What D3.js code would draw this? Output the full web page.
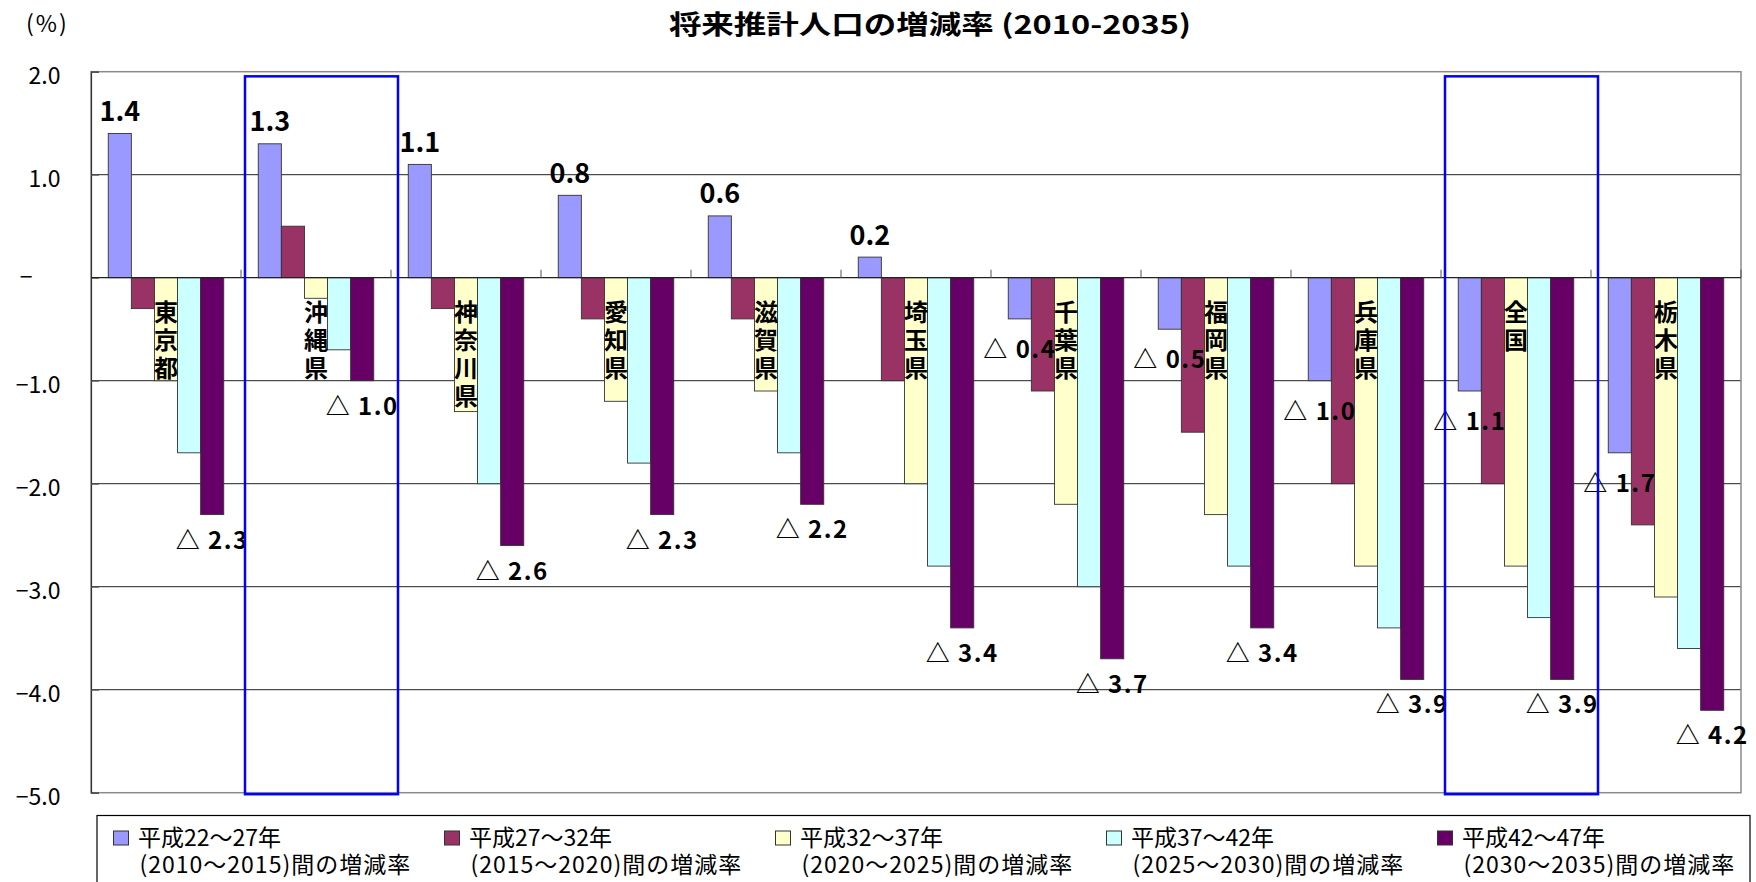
<html>
<head>
<meta charset="utf-8">
<title>将来推計人口の増減率</title>
<script src="https://cdn.jsdelivr.net/npm/d3@7"></script>
<style>
	html, body{
		margin: 0;
		padding: 0;
		background: #fff;
	}
	svg text{
		font-family: "Noto Sans CJK JP", "Noto Sans", sans-serif;
		fill: #000;
	}
</style>
</head>
<body>
<svg id="chart" width="1756" height="882"></svg>
<script>
	// categories (prefectures), left to right
	var categories = ["東京都", "沖縄県", "神奈川県", "愛知県", "滋賀県", "埼玉県", "千葉県", "福岡県", "兵庫県", "全国", "栃木県"];

	// growth rate (%) per period
	var s2010 = [1.4, 1.3, 1.1, 0.8, 0.6, 0.2, -0.4, -0.5, -1.0, -1.1, -1.7];
	var s2015 = [-0.3, 0.5, -0.3, -0.4, -0.4, -1.0, -1.1, -1.5, -2.0, -2.0, -2.4];
	var s2020 = [-1.0, -0.2, -1.3, -1.2, -1.1, -2.0, -2.2, -2.3, -2.8, -2.8, -3.1];
	var s2025 = [-1.7, -0.7, -2.0, -1.8, -1.7, -2.8, -3.0, -2.8, -3.4, -3.3, -3.6];
	var s2030 = [-2.3, -1.0, -2.6, -2.3, -2.2, -3.4, -3.7, -3.4, -3.9, -3.9, -4.2];

	var seriesTop = ["平成22～27年", "平成27～32年", "平成32～37年", "平成37～42年", "平成42～47年"];
	var seriesBottom = ["(2010～2015)間の増減率", "(2015～2020)間の増減率", "(2020～2025)間の増減率", "(2025～2030)間の増減率", "(2030～2035)間の増減率"];
	var colors = ["#9999FF", "#993366", "#FFFFCC", "#CCFFFF", "#660066"];

	var yTicks = [2, 1, 0, -1, -2, -3, -4, -5];
	var highlighted = ["沖縄県", "全国"];

	var series = [s2010, s2015, s2020, s2025, s2030];

	var svg = d3.select("#chart"),
		plotLeft = 91,
		plotRight = 1741,
		plotTop = 71.7,
		plotBottom = 792.7;

	var y = d3.scaleLinear().domain([-5, 2]).range([plotBottom, plotTop]);

	var x0 = d3.scaleBand()
		.domain(categories)
		.range([plotLeft, plotRight])
		.paddingInner(0.23)
		.paddingOuter(0.115);

	var x1 = d3.scaleBand()
		.domain(d3.range(series.length))
		.range([0, x0.bandwidth()]);

	var step = x0.step(),
		zeroY = y(0);

	// title
	svg.append("text")
		.attr("transform", "translate(930,34) scale(1.25,1)")
		.attr("text-anchor", "middle")
		.style("font-size", "26px")
		.style("font-weight", "bold")
		.text("将来推計人口の増減率 (2010-2035)");

	svg.append("text")
		.attr("x", 26)
		.attr("y", 32)
		.style("font-size", "23px")
		.style("letter-spacing", "2px")
		.text("(%)");

	// gridlines
	svg.append("g")
		.selectAll("line")
		.data(yTicks.filter(function(d){ return d !== 0 && d !== 2 && d !== -5; }))
		.join("line")
		.attr("x1", plotLeft)
		.attr("x2", plotRight)
		.attr("y1", function(d){ return y(d); })
		.attr("y2", function(d){ return y(d); })
		.attr("stroke", "#222")
		.attr("stroke-width", 1);

	// plot border
	svg.append("rect")
		.attr("x", plotLeft)
		.attr("y", plotTop)
		.attr("width", plotRight - plotLeft)
		.attr("height", plotBottom - plotTop)
		.attr("fill", "none")
		.attr("stroke", "#8a8a8a")
		.attr("stroke-width", 1.5);

	// y axis
	var yAxis = svg.append("g")
		.attr("transform", "translate(" + plotLeft + ",0)")
		.call(d3.axisLeft(y)
			.tickValues(yTicks)
			.tickSize(-8)
			.tickPadding(30.5)
			.tickFormat(function(d){ return d === 0 ? "−" : d3.format(".1f")(d); }));

	yAxis.select(".domain").attr("stroke", "#333").attr("stroke-width", 1.2);
	yAxis.selectAll(".tick line").attr("stroke", "#555");
	yAxis.selectAll(".tick text")
		.attr("dy", "0.5em")
		.style("font-size", "23px")
		.style("font-family", "\"Noto Sans CJK JP\", sans-serif");
	yAxis.selectAll(".tick text")
		.filter(function(d){ return d === 0; })
		.attr("x", -58.5)
		.attr("dy", "0.3em");

	// bars
	var groups = svg.append("g")
		.selectAll("g")
		.data(categories)
		.join("g")
		.attr("transform", function(d){ return "translate(" + x0(d) + ",0)"; });

	groups.selectAll("rect")
		.data(function(d, i){ return series.map(function(s, k){ return {k: k, v: s[i]}; }); })
		.join("rect")
		.attr("x", function(d){ return x1(d.k); })
		.attr("width", x1.bandwidth())
		.attr("y", function(d){ return Math.min(y(d.v), zeroY); })
		.attr("height", function(d){ return Math.abs(y(d.v) - zeroY); })
		.attr("fill", function(d){ return colors[d.k]; })
		.attr("stroke", "#333")
		.attr("stroke-width", 0.9);

	// zero axis with category ticks
	svg.append("line")
		.attr("x1", plotLeft)
		.attr("x2", plotRight)
		.attr("y1", zeroY)
		.attr("y2", zeroY)
		.attr("stroke", "#222")
		.attr("stroke-width", 1.2);

	svg.append("g")
		.selectAll("line")
		.data(categories)
		.join("line")
		.attr("x1", function(d){ return x0(d) - step * 0.115 + step; })
		.attr("x2", function(d){ return x0(d) - step * 0.115 + step; })
		.attr("y1", zeroY - 8)
		.attr("y2", zeroY)
		.attr("stroke", "#555");

	// category names, vertical, over the third bar
	groups.append("text")
		.attr("text-anchor", "middle")
		.style("font-size", "24px")
		.style("font-weight", "bold")
		.selectAll("tspan")
		.data(function(d){ return d.split(""); })
		.join("tspan")
		.attr("x", x1(2) + x1.bandwidth() / 2)
		.attr("y", function(d, i){ return zeroY + 33 + i * 28; })
		.attr("dominant-baseline", "central")
		.text(function(d){ return d; });

	// value labels: first and last series
	function labelText(v){
		return v < 0 ? "△ " + Math.abs(v).toFixed(1) : v.toFixed(1);
	}

	[0, 4].forEach(function(k){
		groups.append("text")
			.attr("text-anchor", "middle")
			.attr("x", x1(k) + x1.bandwidth() / 2)
			.attr("y", function(d, i){
				var v = series[k][i];
				if (v >= 0) return y(v) - 12.6;
				return y(v) + (k === 0 ? 39 : 34);
			})
			.style("font-size", function(d, i){ return series[k][i] >= 0 ? "27px" : "24px"; })
			.style("font-weight", "bold")
			.style("letter-spacing", function(d, i){ return series[k][i] >= 0 ? "0px" : "1.5px"; })
			.attr("xml:space", "preserve")
			.text(function(d, i){ return labelText(series[k][i]); });
	});

	// highlight boxes
	svg.append("g")
		.selectAll("rect")
		.data(highlighted)
		.join("rect")
		.attr("x", function(d){ return x0(d) - step * 0.115 + 4; })
		.attr("y", y(1.955))
		.attr("width", step + 3)
		.attr("height", y(-5) - y(1.955) + 1.5)
		.attr("fill", "none")
		.attr("stroke", "#0000FF")
		.attr("stroke-width", 2.5);

	// legend
	svg.append("rect")
		.attr("x", 97)
		.attr("y", 815.5)
		.attr("width", 1653)
		.attr("height", 90)
		.attr("fill", "#fff")
		.attr("stroke", "#000")
		.attr("stroke-width", 1.2);

	var legend = svg.append("g")
		.selectAll("g")
		.data(seriesTop)
		.join("g")
		.attr("transform", function(d, i){ return "translate(" + (113.5 + i * 331) + ",0)"; });

	legend.append("rect")
		.attr("x", 0)
		.attr("y", 831)
		.attr("width", 15)
		.attr("height", 14)
		.attr("fill", function(d, i){ return colors[i]; })
		.attr("stroke", "#333");

	legend.append("text")
		.attr("x", 24.5)
		.attr("y", 845.5)
		.style("font-size", "23px")
		.text(function(d){ return d; });

	legend.append("text")
		.attr("x", 26)
		.attr("y", 873)
		.style("font-size", "23px")
		.style("letter-spacing", "1px")
		.text(function(d, i){ return seriesBottom[i]; });
</script>
</body>
</html>
